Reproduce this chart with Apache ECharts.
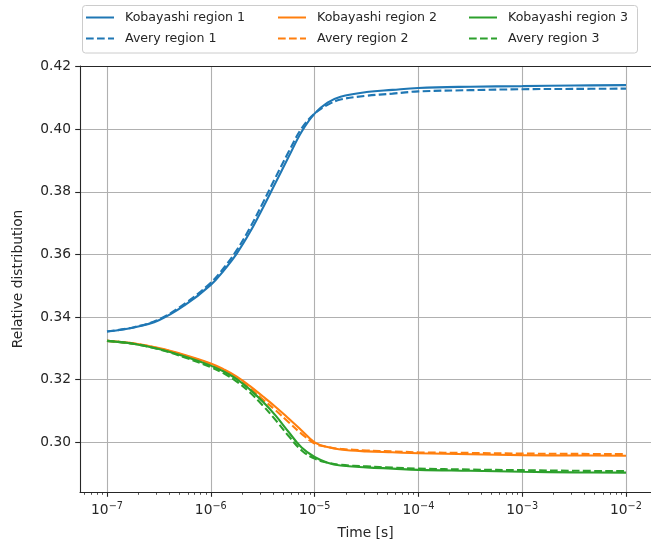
<!DOCTYPE html>
<html>
<head>
<meta charset="utf-8">
<script src="https://cdn.jsdelivr.net/npm/echarts@6/dist/echarts.min.js"></script>
<style>
  html, body { margin: 0; padding: 0; background: #ffffff; }
  #chart { width: 651px; height: 548px; }
</style>
</head>
<body>
<div id="chart"></div>
<script>
// Sample times, as log10(t / s)
const logTime = [-7, -6.75, -6.5, -6.25, -6, -5.875, -5.75, -5.625, -5.5, -5.375, -5.25,
                 -5.125, -5, -4.875, -4.75, -4.5, -4.25, -4, -3.5, -3, -2.5, -2];

// Relative distribution per region
const kobayashi1 = [0.3354, 0.3366, 0.3390, 0.3438, 0.3503, 0.3549, 0.3603, 0.3670, 0.3748, 0.3830, 0.3912,
                    0.3992, 0.4050, 0.4085, 0.4104, 0.4119, 0.4126, 0.4132, 0.4136, 0.4138, 0.4140, 0.4141];
const avery1     = [0.3354, 0.3367, 0.3393, 0.3443, 0.3510, 0.3557, 0.3614, 0.3684, 0.3764, 0.3847, 0.3928,
                    0.4003, 0.4050, 0.4078, 0.4095, 0.4107, 0.4114, 0.4121, 0.4125, 0.4128, 0.4129, 0.4130];
const kobayashi2 = [0.3324, 0.3316, 0.3301, 0.3279, 0.3252, 0.3233, 0.3210, 0.3180, 0.3147, 0.3113, 0.3076,
                    0.3038, 0.3000, 0.2985, 0.2977, 0.2971, 0.2968, 0.2965, 0.2962, 0.2959, 0.2958, 0.2957];
const avery2     = [0.3324, 0.3316, 0.3300, 0.3277, 0.3249, 0.3228, 0.3204, 0.3173, 0.3137, 0.3102, 0.3064,
                    0.3027, 0.2996, 0.2985, 0.2979, 0.2974, 0.2971, 0.2968, 0.2966, 0.2964, 0.2963, 0.2962];
const kobayashi3 = [0.3324, 0.3315, 0.3298, 0.3274, 0.3245, 0.3226, 0.3202, 0.3169, 0.3130, 0.3085, 0.3033,
                    0.2983, 0.2953, 0.2935, 0.2926, 0.2920, 0.2916, 0.2912, 0.2909, 0.2906, 0.2904, 0.2903];
const avery3     = [0.3324, 0.3315, 0.3297, 0.3271, 0.3240, 0.3220, 0.3194, 0.3160, 0.3118, 0.3071, 0.3020,
                    0.2974, 0.2948, 0.2935, 0.2928, 0.2923, 0.2919, 0.2916, 0.2913, 0.2911, 0.2909, 0.2908];

// Axis ticks
const decadeTicks = [-7, -6, -5, -4, -3, -2];
const yTicks = [0.30, 0.32, 0.34, 0.36, 0.38, 0.40, 0.42];

const X_MIN = -7.26, X_MAX = -1.759;
const Y_MIN = 0.28412, Y_MAX = 0.42022;

// log-scale minor ticks (2..9 x 10^k) inside the visible range
const minorTicks = [];
for (let e = -8; e <= -2; e++) {
  for (let k = 2; k <= 9; k++) {
    const v = e + Math.log10(k);
    if (v > X_MIN && v < X_MAX) minorTicks.push(v);
  }
}

const FONT = 'DejaVu Sans';
const INK = '#262626';
const GRID = '#b0b0b0';
const COLORS = ['#1f77b4', '#ff7f0e', '#2ca02c'];

function pairs(ys) { return logTime.map((x, i) => [x, ys[i]]); }

function lineSeries(name, ys, color, dashed) {
  return {
    name, type: 'line', data: pairs(ys),
    xAxisIndex: 0, yAxisIndex: 0,
    symbol: 'none', showSymbol: false, smooth: 0.4,
    lineStyle: { color, width: 2.1, type: dashed ? [7.7, 3.3] : 'solid', cap: 'butt' },
    itemStyle: { color },
    emphasis: { disabled: true },
    animation: false
  };
}

function legendEntry(name, left, top) {
  return {
    data: [name], left, top, orient: 'horizontal',
    itemWidth: 28, itemHeight: 14, itemGap: 0, padding: 0,
    selectedMode: false,
    itemStyle: { color: 'rgba(0,0,0,0)', borderWidth: 0, opacity: 0 },
    textStyle: { fontFamily: FONT, fontSize: 12.6, color: INK, padding: [0, 0, 0, 6] }
  };
}

const chart = echarts.init(document.getElementById('chart'), null, { renderer: 'canvas' });

chart.setOption({
  backgroundColor: '#ffffff',
  animation: false,
  grid: { left: 80, top: 66, right: 0, bottom: 56, containLabel: false },
  graphic: [{
    type: 'rect', z: 0,
    shape: { x: 82.5, y: 5.5, width: 555, height: 47.5, r: 3 },
    style: { fill: 'rgba(255,255,255,0.8)', stroke: '#cccccc', lineWidth: 1 }
  }],
  legend: [
    legendEntry('Kobayashi region 1', 85, 11),
    legendEntry('Avery region 1', 85, 32),
    legendEntry('Kobayashi region 2', 277, 11),
    legendEntry('Avery region 2', 277, 32),
    legendEntry('Kobayashi region 3', 468, 11),
    legendEntry('Avery region 3', 468, 32)
  ],
  xAxis: [
    {
      type: 'value', position: 'bottom', min: X_MIN, max: X_MAX,
      axisLine: { show: true, onZero: false, lineStyle: { color: INK, width: 1.1 } },
      axisTick: { show: true, customValues: decadeTicks, length: 4.8, lineStyle: { color: INK, width: 1.1 } },
      axisLabel: {
        customValues: decadeTicks, margin: 9,
        fontFamily: FONT, fontSize: 13.8, color: INK,
        formatter: v => '{b|10}{s|\u2212' + Math.round(-v) + '}',
        rich: {
          b: { fontFamily: FONT, fontSize: 13.8, color: INK },
          s: { fontFamily: FONT, fontSize: 9.7, color: INK, padding: [0, 0, 9, 0] }
        }
      },
      splitLine: { show: true, lineStyle: { color: GRID, width: 1.1 } },
      name: 'Time [s]', nameLocation: 'middle', nameGap: 34,
      nameTextStyle: { fontFamily: FONT, fontSize: 13.8, color: INK }
    },
    {
      type: 'value', position: 'bottom', min: X_MIN, max: X_MAX,
      axisLine: { show: false, onZero: false },
      axisTick: { show: true, customValues: minorTicks, length: 2.8, lineStyle: { color: INK, width: 0.8 } },
      axisLabel: { show: false },
      splitLine: { show: false }
    },
    {
      type: 'value', position: 'top', min: X_MIN, max: X_MAX,
      axisLine: { show: true, onZero: false, lineStyle: { color: INK, width: 1.1 } },
      axisTick: { show: false }, axisLabel: { show: false }, splitLine: { show: false }
    }
  ],
  yAxis: {
    type: 'value', min: Y_MIN, max: Y_MAX,
    axisLine: { show: true, onZero: false, lineStyle: { color: INK, width: 1.1 } },
    axisTick: { show: true, customValues: yTicks, length: 4.8, lineStyle: { color: INK, width: 1.1 } },
    axisLabel: {
      customValues: yTicks, margin: 9,
      fontFamily: FONT, fontSize: 13.8, color: INK,
      formatter: v => v.toFixed(2)
    },
    splitLine: { show: true, lineStyle: { color: GRID, width: 1.1 } },
    name: 'Relative distribution', nameLocation: 'middle', nameGap: 55, nameRotate: 90,
    nameTextStyle: { fontFamily: FONT, fontSize: 13.8, color: INK }
  },
  series: [
    lineSeries('Kobayashi region 1', kobayashi1, COLORS[0], false),
    lineSeries('Avery region 1', avery1, COLORS[0], true),
    lineSeries('Kobayashi region 2', kobayashi2, COLORS[1], false),
    lineSeries('Avery region 2', avery2, COLORS[1], true),
    lineSeries('Kobayashi region 3', kobayashi3, COLORS[2], false),
    lineSeries('Avery region 3', avery3, COLORS[2], true)
  ]
});
</script>
</body>
</html>
